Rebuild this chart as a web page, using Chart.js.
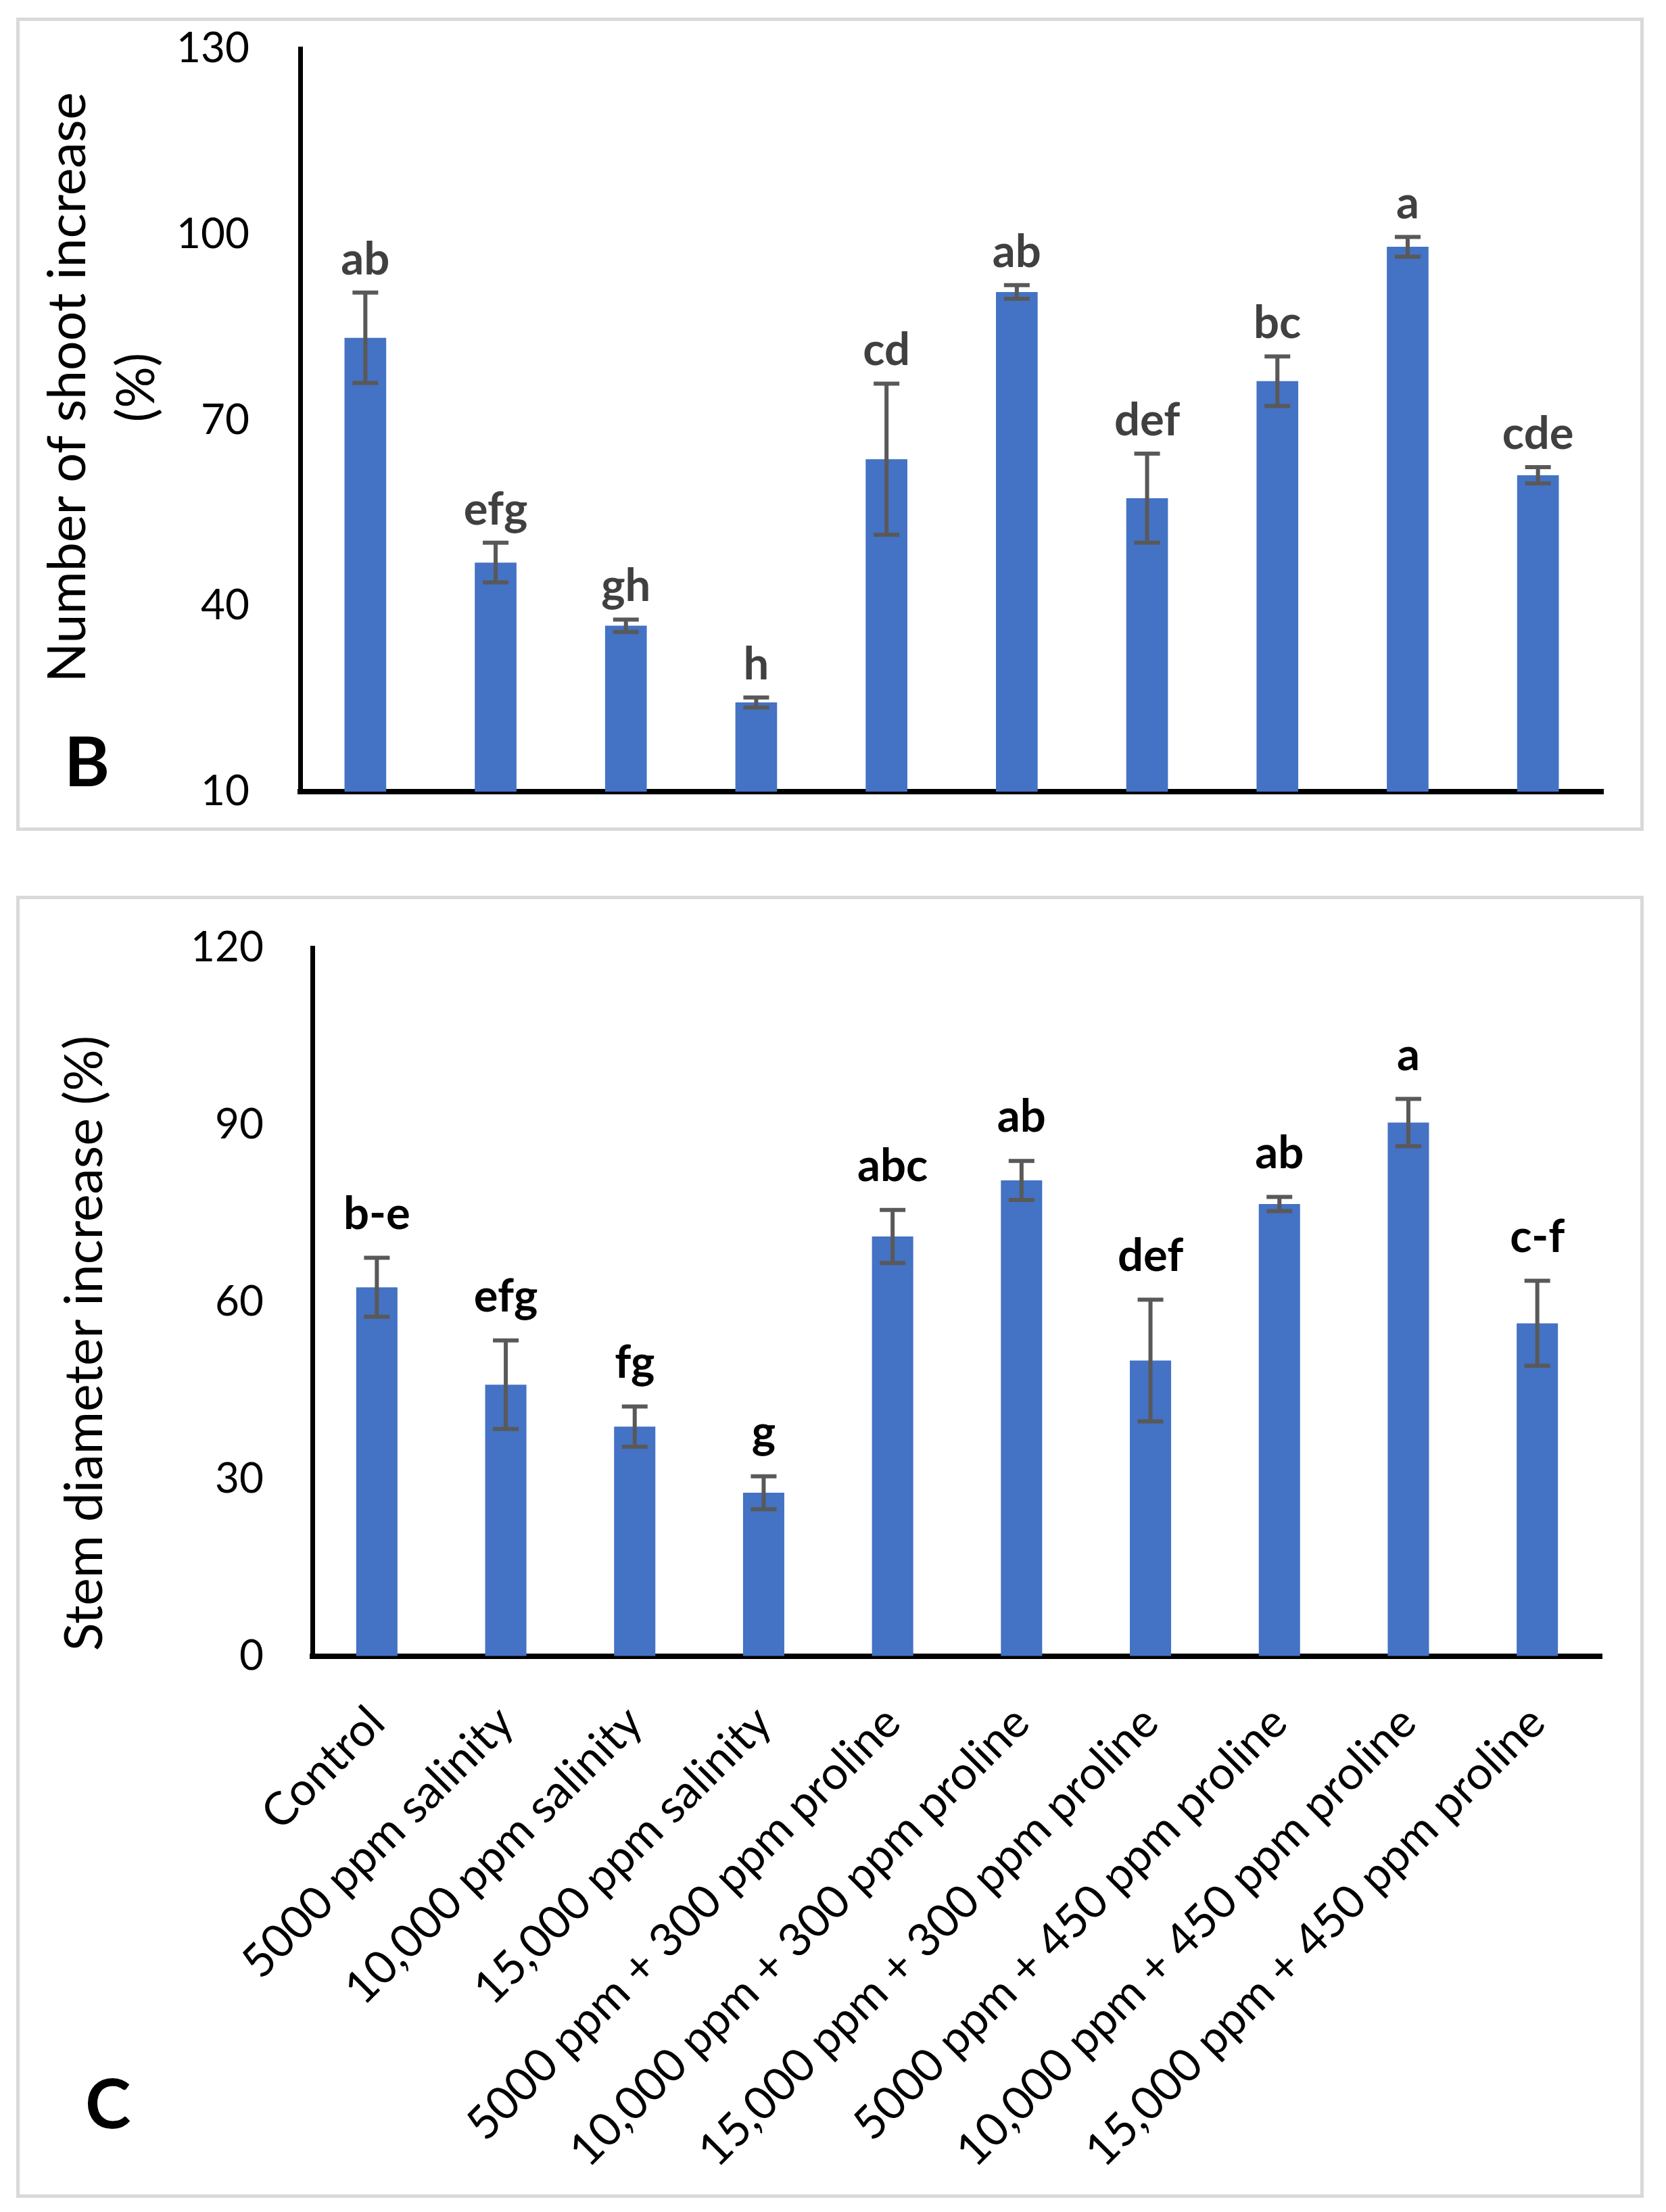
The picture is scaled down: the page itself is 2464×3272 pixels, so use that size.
<!DOCTYPE html>
<html>
<head>
<meta charset="utf-8">
<script src="https://cdn.jsdelivr.net/npm/chart.js@4.4.1/dist/chart.umd.min.js"></script>
<style>
  body { margin: 0; background: #fff; width: 2464px; height: 3272px; position: relative; overflow: hidden; }
  .frame { position: absolute; border: 5px solid #d9d9d9; box-sizing: border-box; }
  canvas { position: absolute; left: 0; }
</style>
</head>
<body>
<div class="frame" style="left:24px; top:26px; width:2407px; height:1203px;"></div>
<div class="frame" style="left:24px; top:1325px; width:2407px; height:1926px;"></div>
<canvas id="shootChart" width="2464" height="1350" style="top:-50px; width:2464px; height:1350px;"></canvas>
<canvas id="stemChart" width="2464" height="1992" style="top:1280px; width:2464px; height:1992px;"></canvas>
<script>
const treatments = [
    "Control",
    "5000 ppm salinity",
    "10,000 ppm salinity",
    "15,000 ppm salinity",
    "5000 ppm + 300 ppm proline",
    "10,000 ppm + 300 ppm proline",
    "15,000 ppm + 300 ppm proline",
    "5000 ppm + 450 ppm proline",
    "10,000 ppm + 450 ppm proline",
    "15,000 ppm + 450 ppm proline"
];

// panel B - number of shoot increase (%)
const shootValues = [83.3, 47.0, 36.8, 24.4, 63.7, 90.7, 57.4, 76.3, 98.0, 61.1];
const shootErrors = [7.3, 3.2, 1.0, 0.8, 12.2, 1.1, 7.2, 4.0, 1.6, 1.3];
const shootLetters = ["ab", "efg", "gh", "h", "cd", "ab", "def", "bc", "a", "cde"];
const shootTicks = [10, 40, 70, 100, 130];

// panel C - stem diameter increase (%)
const stemValues = [62.5, 46.0, 38.9, 27.7, 71.1, 80.6, 50.1, 76.6, 90.4, 56.4];
const stemErrors = [5.0, 7.5, 3.4, 2.8, 4.5, 3.3, 10.3, 1.2, 4.0, 7.2];
const stemLetters = ["b-e", "efg", "fg", "g", "abc", "ab", "def", "ab", "a", "c-f"];
const stemTicks = [0, 30, 60, 90, 120];

Chart.defaults.font.family = "Lato";
Chart.defaults.color = "#000";

// error bars, significance letters, panel letter and y title
const overlay = {
    id: "overlay",
    afterDatasetsDraw(chart, args, o) {
        const ctx = chart.ctx;
        const y = chart.scales.y;
        const meta = chart.getDatasetMeta(0);
        ctx.save();
        meta.data.forEach((bar, i) => {
            const top = y.getPixelForValue(o.values[i] + o.errors[i]);
            const bot = y.getPixelForValue(o.values[i] - o.errors[i]);
            ctx.strokeStyle = "#595959";
            ctx.lineWidth = 6;
            ctx.beginPath();
            ctx.moveTo(bar.x, top); ctx.lineTo(bar.x, bot);
            ctx.moveTo(bar.x - 19, top); ctx.lineTo(bar.x + 19, top);
            ctx.moveTo(bar.x - 19, bot); ctx.lineTo(bar.x + 19, bot);
            ctx.stroke();
            ctx.fillStyle = o.letterColor;
            ctx.font = "bold 67px Lato";
            ctx.textAlign = "center";
            ctx.textBaseline = "alphabetic";
            ctx.fillText(o.letters[i], bar.x, top - o.gap);
        });

        ctx.fillStyle = "#000";
        ctx.font = "bold 102px Lato";
        ctx.textAlign = "left";
        ctx.fillText(o.panel, o.panelX, o.panelY);

        ctx.font = "77px Lato";
        ctx.textAlign = "center";
        o.title.forEach((line, k) => {
            ctx.save();
            ctx.translate(o.titleX[k], o.titleY);
            ctx.rotate(-Math.PI / 2);
            ctx.fillText(line, 0, 0);
            ctx.restore();
        });
        ctx.restore();
    }
};

function makeChart(id, values, ticks, showLabels, xHeight, yWidth, tickPad, pad, extra) {
    return new Chart(document.getElementById(id), {
        type: "bar",
        data: {
            labels: treatments,
            datasets: [{
                data: values,
                backgroundColor: "#4472C4",
                borderWidth: 0,
                categoryPercentage: 0.4,
                barPercentage: 0.8
            }]
        },
        options: {
            responsive: false,
            animation: false,
            devicePixelRatio: 1,
            layout: { padding: pad },
            plugins: {
                legend: { display: false },
                tooltip: { enabled: false },
                overlay: extra
            },
            scales: {
                x: {
                    grid: { drawOnChartArea: false, drawTicks: false },
                    border: { display: true, color: "#000", width: 8 },
                    ticks: {
                        display: showLabels,
                        autoSkip: false,
                        maxRotation: 45,
                        minRotation: 45,
                        padding: 58,
                        color: "#000",
                        font: { size: 68 }
                    },
                    afterFit: s => { s.height = xHeight; }
                },
                y: {
                    min: ticks[0],
                    max: ticks[ticks.length - 1],
                    afterBuildTicks: s => { s.ticks = ticks.map(v => ({ value: v })); },
                    grid: { drawOnChartArea: false, drawTicks: false },
                    border: { display: true, color: "#000", width: 7 },
                    ticks: { padding: tickPad, color: "#000", font: { size: 62 } },
                    afterFit: s => { s.width = yWidth; }
                }
            }
        },
        plugins: [overlay]
    });
}

// top canvas starts 50px above the page so the tick padding fits inside it
makeChart("shootChart", shootValues, shootTicks, false, 0, 444, 75,
    { left: 0, top: 122, right: 93, bottom: 129 },
    {
        values: shootValues, errors: shootErrors, letters: shootLetters,
        letterColor: "#404040", gap: 27,
        panel: "B", panelX: 95, panelY: 1213,
        title: ["Number of shoot increase", "(%)"], titleX: [126, 228], titleY: 623
    });

makeChart("stemChart", stemValues, stemTicks, true, 822, 462, 72,
    { left: 0, top: 122, right: 95, bottom: 0 },
    {
        values: stemValues, errors: stemErrors, letters: stemLetters,
        letterColor: "#000", gap: 43,
        panel: "C", panelX: 126, panelY: 3148 - 1280,
        title: ["Stem diameter increase (%)"], titleX: [151], titleY: 1987 - 1280
    });
</script>
</body>
</html>
